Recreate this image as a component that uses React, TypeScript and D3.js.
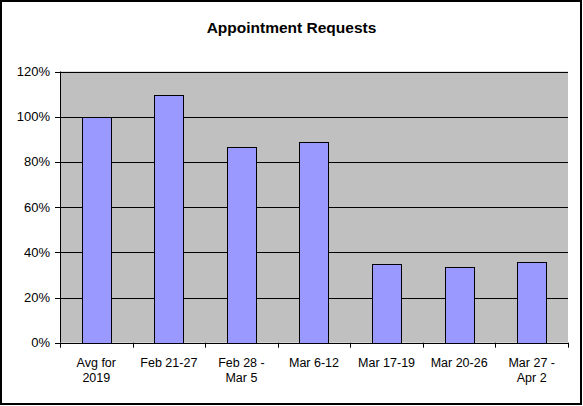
import React from "react";
import * as d3 from "d3";

const categories: string[][] = [
  ["Avg for", "2019"],
  ["Feb 21-27"],
  ["Feb 28 -", "Mar 5"],
  ["Mar 6-12"],
  ["Mar 17-19"],
  ["Mar 20-26"],
  ["Mar 27 -", "Apr 2"],
];
const values: number[] = [1.0, 1.096, 0.865, 0.887, 0.35, 0.334, 0.356];
const yTicks: number[] = [0, 0.2, 0.4, 0.6, 0.8, 1.0, 1.2];
const title = "Appointment Requests";

const W = 583;
const H = 406;
const plot = { left: 60, right: 568, top: 71.5, bottom: 342.7 };
const font = "Liberation Sans, Arial, sans-serif";

export default function App() {
  const keys = categories.map((_, i) => String(i));
  const x = d3
    .scaleBand<string>()
    .domain(keys)
    .range([plot.left, plot.right])
    .paddingInner(0.6)
    .paddingOuter(0.3);
  const step = x.step();
  const y = d3.scaleLinear().domain([0, 1.2]).range([plot.bottom, plot.top]);
  const fmt = d3.format(".0%");

  return (
    <svg
      width={W}
      height={H}
      style={{ position: "absolute", left: 0, top: 0, background: "#fff" }}
    >
      <rect x={1} y={1} width={W - 3} height={H - 3} fill="#fff" stroke="#000" strokeWidth={2} />
      <text
        x={291.5}
        y={32.5}
        textAnchor="middle"
        fontFamily={font}
        fontWeight="bold"
        fontSize={15.5}
        fill="#000"
      >
        {title}
      </text>
      <rect
        x={plot.left}
        y={plot.top}
        width={plot.right - plot.left}
        height={plot.bottom - plot.top}
        fill="#C0C0C0"
      />
      {yTicks.map((t) => (
        <g key={t}>
          {t > 0 && (
            <line
              x1={plot.left}
              x2={plot.right}
              y1={Math.round(y(t)) + 0.5}
              y2={Math.round(y(t)) + 0.5}
              stroke="#000"
              strokeWidth={1}
            />
          )}
          <line
            x1={plot.left - 5}
            x2={plot.left}
            y1={Math.round(y(t)) + 0.5}
            y2={Math.round(y(t)) + 0.5}
            stroke="#000"
          />
          <text
            x={plot.left - 10}
            y={y(t) + 4.5}
            textAnchor="end"
            fontFamily={font}
            fontSize={13}
            fill="#000"
          >
            {fmt(t)}
          </text>
        </g>
      ))}
      {values.map((v, i) => {
        const bx = x(String(i))!;
        const top = y(v);
        return (
          <rect
            key={i}
            x={Math.round(bx) + 0.5}
            y={Math.round(top) + 0.5}
            width={Math.round(x.bandwidth())}
            height={Math.round(plot.bottom) - Math.round(top)}
            fill="#9999FF"
            stroke="#000"
            strokeWidth={1}
          />
        );
      })}
      <line
        x1={plot.left + 0.5}
        x2={plot.left + 0.5}
        y1={plot.top}
        y2={plot.bottom}
        stroke="#000"
      />
      <line
        x1={plot.left}
        x2={plot.right}
        y1={Math.round(plot.bottom) + 0.5}
        y2={Math.round(plot.bottom) + 0.5}
        stroke="#000"
      />
      {d3.range(categories.length + 1).map((i) => {
        const xx = Math.round(plot.left + i * step) + 0.5;
        return (
          <line
            key={i}
            x1={xx}
            x2={xx}
            y1={plot.bottom}
            y2={plot.bottom + 5}
            stroke="#000"
          />
        );
      })}
      {categories.map((lines, i) => {
        const cx = x(String(i))! + x.bandwidth() / 2;
        return (
          <text
            key={i}
            x={cx}
            textAnchor="middle"
            fontFamily={font}
            fontSize={12.5}
            fill="#000"
          >
            {lines.map((l, j) => (
              <tspan key={j} x={cx} y={366.5 + j * 15}>
                {l}
              </tspan>
            ))}
          </text>
        );
      })}
    </svg>
  );
}
